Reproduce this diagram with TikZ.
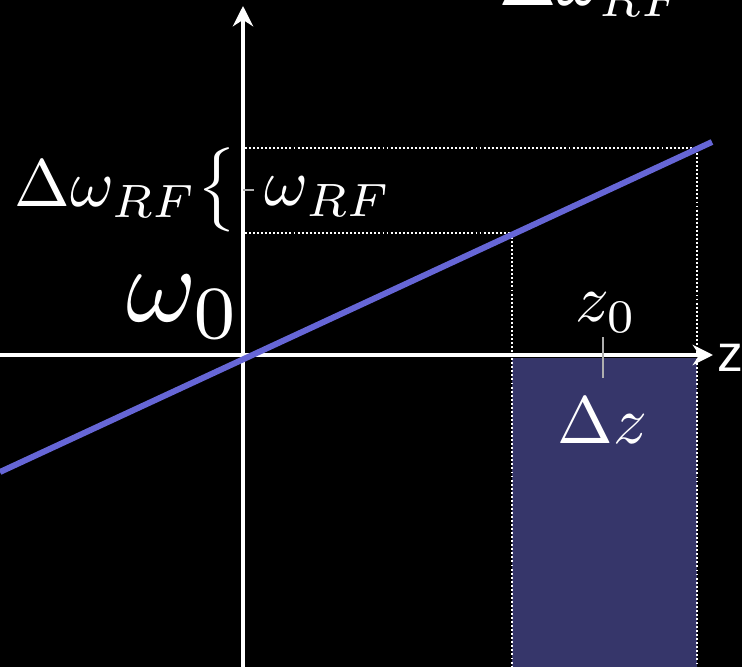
\documentclass[tikz,border=0pt]{standalone}
\usepackage[no-math]{fontspec}
\usepackage{graphicx}
\newfontfamily\axisfont{Liberation Sans}
\usepackage{xcolor}
\definecolor{lineblue}{RGB}{102,102,214}
\definecolor{slabblue}{RGB}{54,54,106}
\definecolor{tickgray}{RGB}{175,175,175}
\usepackage{tikz}
\usetikzlibrary{arrows.meta}
\newcommand{\mlab}[2][1.9]{\scalebox{#1}{$#2$}}

\begin{document}
\begin{tikzpicture}[x=0.01cm, y=-0.01cm,
  axis/.style={draw=white, line width=1pt, -{Stealth[length=5.8pt,width=5.8pt]}},
  guide/.style={draw=white, line width=0.35pt, dash pattern=on 0.55pt off 0.6pt},
  lbl/.style={text=white, inner sep=0pt, anchor=base west},
  ticky/.style={draw=tickgray, line width=0.45pt}]
\fill[black] (0,0) rectangle (742,667);
\clip (0,0) rectangle (742,667);
% points on the axes
\coordinate (ybot) at (243,667);
\coordinate (ytop) at (243,6);
\coordinate (xleft) at (0,355);
\coordinate (xright) at (713,355);
\coordinate (lo) at (512,233);
\coordinate (hi) at (697,148);
% selected slice
\fill[slabblue] (512,358) rectangle (697,667);
% dotted guides
\draw[guide] (245,148) -- (hi) -- (697,667);
\draw[guide] (245,233) -- (lo) -- (512,667);
% axes
\draw[axis] (ybot) -- (ytop);
\draw[axis] (xleft) -- (xright);
\node[lbl, font=\axisfont\fontsize{14.7}{17}\selectfont] (zlab) at (717,372) {z};
% gradient line
\draw[lineblue, line width=1.7pt] (0,472) -- (712,142);
% ticks
\draw[ticky] (243,190) -- (254,190);
\draw[ticky] (603,337) -- (603,378);
% labels
\node[text=white, inner sep=0pt, anchor=center] (brace) at (217,190) {\mlab[2]{\big\{}};
\node[lbl] (dwl) at (14,207) {\mlab{\Delta\omega_{RF}}};
\node[lbl] (wrf) at (264,206) {\mlab{\omega_{RF}}};
\node[lbl] (w0) at (126,322) {\mlab[3.05]{\omega_0}};
\node[lbl] (z0) at (575,322) {\mlab{z_0}};
\node[lbl] (dz) at (557,443) {\mlab{\Delta z}};
\node[lbl] (dwtop) at (499,6) {\mlab[1.95]{\Delta\omega_{RF}}};
\end{tikzpicture}
\end{document}
